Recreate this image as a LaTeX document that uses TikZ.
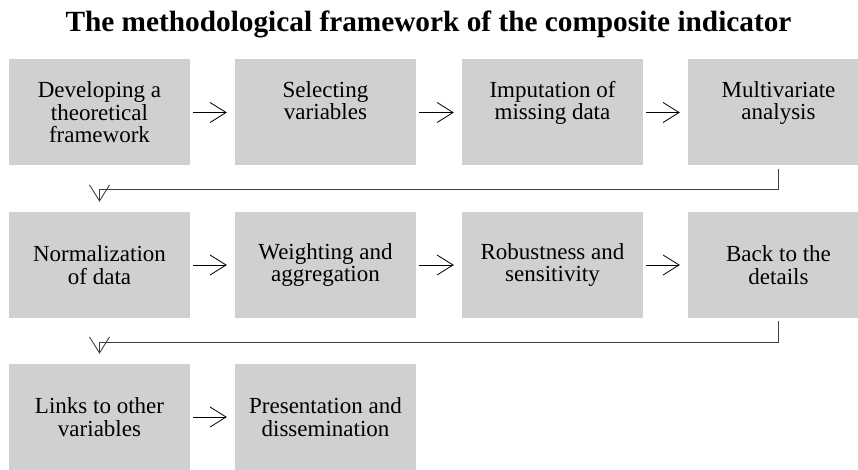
\documentclass[tikz,border=0pt]{standalone}
\usepackage{fontspec}
\setmainfont{Liberation Serif}
\usetikzlibrary{arrows.meta,positioning}
\definecolor{boxgray}{RGB}{208,208,210}

\begin{document}
\begin{tikzpicture}[x=1pt,y=-1pt,
    every node/.style={font=\fontsize{23}{22.5}\selectfont},
    stepbox/.style={fill=boxgray,minimum width=181pt,minimum height=106pt,inner sep=0pt,align=center},
    toprow/.style={text depth=24pt},
    nextarrow/.style={-{Straight Barb[length=16pt,width=20pt]},line width=0.8pt,shorten <=3pt,shorten >=8pt},
    backline/.style={-{Straight Barb[length=16pt,width=20pt]},line width=0.9pt,draw=black!75,shorten <=3pt,shorten >=10pt}]
    \useasboundingbox (0,0) rectangle (858,470);
    \node[anchor=base,font=\bfseries\fontsize{29.3}{32}\selectfont] (title) at (428.5,32) {The methodological framework of the composite indicator};
    % first row
    \node[stepbox] (dev) at (99.5,112.5) {Developing a\\theoretical\\framework};
    \node[stepbox,toprow] (sel) at (325.5,112.5) {Selecting\\variables};
    \node[stepbox,toprow] (imp) at (552.5,112.5) {Imputation of\\missing data};
    \node[stepbox,toprow] (multi) at (778.5,112.5) {Multivariate\\analysis};
    % second row
    \node[stepbox] (norm) at (99.5,265) {Normalization\\of data};
    \node[stepbox] (weight) at (325.5,265) {Weighting and\\aggregation};
    \node[stepbox] (robust) at (552.5,265) {Robustness and\\sensitivity};
    \node[stepbox] (back) at (778.5,265) {Back to the\\details};
    % third row
    \node[stepbox] (links) at (99.5,417) {Links to other\\variables};
    \node[stepbox] (pres) at (325.5,417) {Presentation and\\dissemination};
    \coordinate (turn1) at (99.5,189);
    \coordinate (turn2) at (99.5,342);
    \draw[nextarrow] (dev) -- (sel);
    \draw[nextarrow] (sel) -- (imp);
    \draw[nextarrow] (imp) -- (multi);
    \draw[backline] (multi.south) |- (turn1) -- (norm.north);
    \draw[nextarrow] (norm) -- (weight);
    \draw[nextarrow] (weight) -- (robust);
    \draw[nextarrow] (robust) -- (back);
    \draw[backline] (back.south) |- (turn2) -- (links.north);
    \draw[nextarrow] (links) -- (pres);
\end{tikzpicture}
\end{document}
